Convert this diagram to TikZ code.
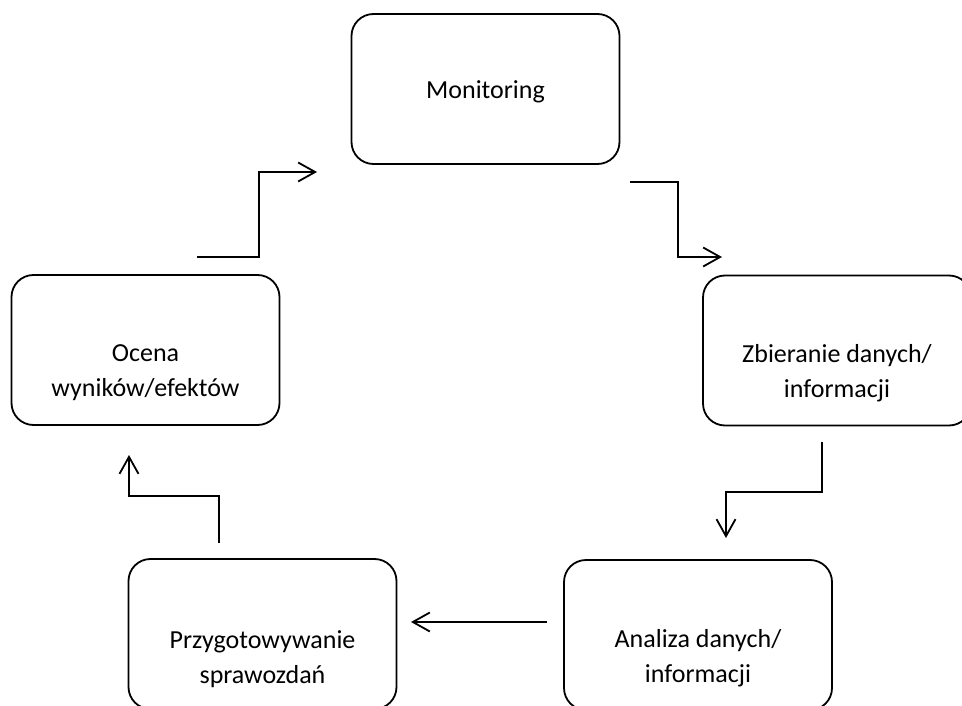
\documentclass[tikz,border=0pt]{standalone}
\usepackage{fontspec}
\setmainfont{Carlito}
\usetikzlibrary{arrows.meta}
\tikzset{
  box/.style={draw=black, line width=1.8pt, rounded corners=22pt, minimum width=268pt, minimum height=150pt, inner sep=0pt},
  txt/.style={font=\fontsize{26pt}{35pt}\selectfont, align=center, inner sep=0pt, anchor=base},
  conn/.style={draw=black, line width=1.8pt, -{Straight Barb[length=17pt,width=19pt,line width=1.8pt]}}
}
\begin{document}
\begin{tikzpicture}[x=1pt,y=-1pt]
\useasboundingbox (0,0) rectangle (962,706);
\clip (0,0) rectangle (962,706);
% boxes
\node[box] (mon) at (485.5,89) {};
\node[box] (zb)  at (837,350.5) {};
\node[box] (an)  at (698,635) {};
\node[box] (pr)  at (262.5,634) {};
\node[box] (oc)  at (145.5,350) {};
% texts (base = baseline of last line)
\node[txt] (monT) at (485.5,99) {Monitoring};
\node[txt] (zbT)  at (837,397) {Zbieranie danych/\\informacji};
\node[txt] (anT)  at (698,682) {Analiza danych/\\informacji};
\node[txt] (prT)  at (262.5,683) {Przygotowywanie\\sprawozdań};
\node[txt] (ocT)  at (145.5,396) {Ocena\\wyników/efektów};
% connector ends
\coordinate (a1s) at (197,257);
\coordinate (a1e) at (317,172);
\coordinate (a2s) at (630,182);
\coordinate (a2e) at (722,257);
\coordinate (a3s) at (822,442);
\coordinate (a3e) at (726,538);
\coordinate (a4s) at (547,622);
\coordinate (a4e) at (411,622);
\coordinate (a5s) at (219,543);
\coordinate (a5e) at (129,455);
% connectors
\draw[conn] (a1s) -- (259,257) |- (a1e);
\draw[conn] (a2s) -- (678,182) |- (a2e);
\draw[conn] (a3s) -- (822,492) -| (a3e);
\draw[conn] (a4s) -- (a4e);
\draw[conn] (a5s) -- (219,496) -| (a5e);
\end{tikzpicture}
\end{document}
